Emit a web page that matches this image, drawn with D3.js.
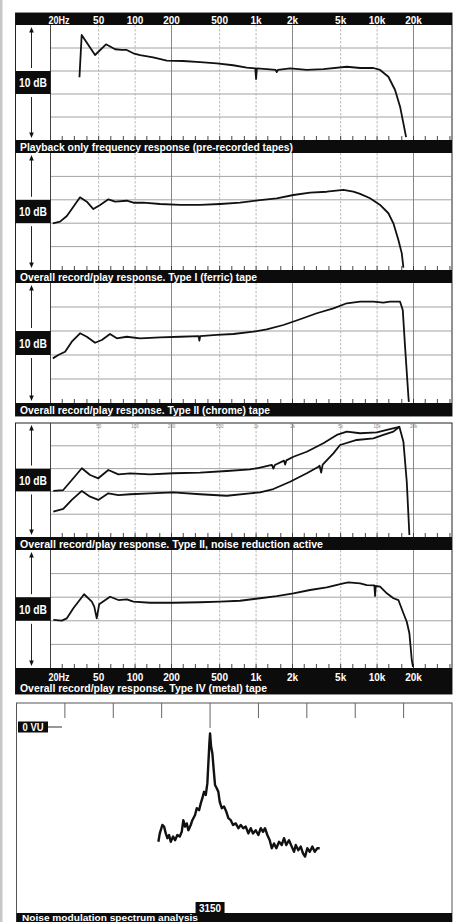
<!DOCTYPE html>
<html>
<head>
<meta charset="utf-8">
<script src="https://cdn.jsdelivr.net/npm/d3@7"></script>
<style>
  body { margin: 0; background: #fff; }
  svg { display: block; }
  .lbl { font-family: "Liberation Sans", Arial, sans-serif; font-weight: bold; fill: #fff; }
</style>
</head>
<body>
<div id="chart"></div>
<script>
// ---- axis data ----
const freqTicks = [20, 50, 100, 200, 500, 1000, 2000, 5000, 10000, 20000];
const freqTickLabels = ["20Hz", "50", "100", "200", "500", "1k", "2k", "5k", "10k", "20k"];
const solidFreqs = [200, 2000, 20000];
const thirdOctave = [25, 31.5, 40, 50, 63, 80, 100, 125, 160, 200, 250, 315, 400, 500, 630, 800,
  1000, 1250, 1600, 2000, 2500, 3150, 4000, 5000, 6300, 8000, 10000, 12500, 16000, 20000, 25000, 31500, 40000];
const dbGrid = [2, 0, -2, -4];

const captions = [
  "Playback only frequency response (pre-recorded tapes)",
  "Overall record/play response. Type I (ferric) tape",
  "Overall record/play response. Type II (chrome) tape",
  "Overall record/play response. Type II, noise reduction active",
  "Overall record/play response. Type IV (metal) tape",
  "Noise modulation spectrum analysis"
];

// ---- response curves: [frequency Hz, level dB] ----
const playback = [[34.7,-0.55],[36.2,3.13],[46.7,1.39],[57.5,2.32],[68.4,1.89],[77.6,1.83],[85.3,1.83],
  [96.8,1.54],[110,1.39],[141,1.19],[183,0.9],[249,0.87],[345,0.78],[473,0.67],[646,0.5],[838,0.29],
  [985,0.23],[1000,-0.7],[1015,0.23],[1225,0.17],[1450,0.1],[1482,-0.1],[1515,0.1],[1910,0.23],
  [2624,0.09],[3597,0.17],[5620,0.37],[7240,0.26],[9320,0.26],[10590,0.09],[12400,-0.5],[14080,-1.65],
  [15490,-3.1],[16500,-4.55],[17370,-5.75]];

const typeI = [[20.9,-2.01],[24,-1.87],[27.3,-1.38],[30.9,-0.59],[35.1,0.21],[39.9,-0.16],[45.2,-0.79],
  [51.4,-0.44],[60.2,0.04],[68.4,-0.16],[85.4,-0.08],[96.8,-0.25],[117,-0.25],[161,-0.36],[236,-0.44],
  [345,-0.44],[504,-0.36],[738,-0.25],[1079,-0.02],[1483,0.13],[2034,0.41],[2794,0.61],[3839,0.69],
  [5265,0.84],[6368,0.69],[7240,0.5],[8750,0.13],[10590,-0.44],[12400,-1.15],[13640,-2.01],[15000,-3.44],
  [16000,-4.58],[16500,-5.8]];

const typeII = [[20.9,-2.28],[23.2,-2.0],[26.4,-1.73],[30,-0.89],[35.1,-0.19],[39.9,-0.48],[46.7,-0.98],
  [53.1,-0.75],[62.1,-0.25],[70.6,-0.61],[85.4,-0.48],[110,-0.61],[161,-0.53],[236,-0.48],[335,-0.42],
  [340,-0.81],[345,-0.42],[473,-0.33],[649,-0.25],[950,-0.06],[1225,0.14],[1682,0.5],[2311,0.98],
  [3175,1.48],[4353,1.89],[5620,2.31],[7240,2.44],[9320,2.44],[11270,2.36],[12800,2.44],[15490,2.44],
  [16300,1.75],[17030,-1.31],[18150,-5.48],[18300,-5.9]];

const typeIINrUpper = [[21.1,-1.96],[25.5,-1.88],[30,-1.0],[36.3,0.03],[42.5,-0.56],[49.7,-0.85],
  [60.1,-0.12],[72.8,-0.5],[91,-0.41],[133,-0.5],[207,-0.41],[345,-0.36],[573,-0.21],[891,-0.06],
  [1014,0.03],[1350,0.32],[1390,0.0],[1430,0.32],[1700,0.7],[1738,0.35],[1780,0.72],[2034,1.04],
  [2624,1.48],[3597,2.22],[4645,2.95],[5620,3.24],[7240,3.1],[9950,3.18],[12030,3.39],[15280,3.67],
  [16500,2.36],[17590,-1.15],[18490,-5.82]];

const typeIINrLower = [[21.1,-3.78],[25.5,-3.54],[30,-2.75],[36.3,-1.96],[42.5,-2.46],[49.7,-2.75],
  [60.1,-2.17],[72.8,-2.32],[91,-2.25],[133,-2.17],[207,-2.08],[345,-2.25],[573,-2.38],[891,-2.17],
  [1079,-2.08],[1390,-1.79],[1910,-1.15],[2624,-0.41],[3251,0.14],[3350,0.25],[3450,-0.35],[3550,0.35],
  [4353,1.34],[4943,2.07],[6790,2.51],[9320,2.66],[11270,2.95],[13640,3.24],[15280,3.67]];

const typeIV = [[21.1,-1.93],[24.8,-1.99],[27.3,-1.79],[30.9,-0.94],[37.9,0.25],[43.9,-0.38],[46,-0.8],
  [48.2,-1.8],[50.5,-0.6],[62.1,0.04],[72.8,-0.24],[85.4,-0.18],[96.8,-0.38],[133,-0.47],[207,-0.47],
  [345,-0.43],[504,-0.38],[738,-0.3],[1079,-0.09],[1482,0.1],[2034,0.33],[2794,0.61],[3839,0.84],
  [5265,1.18],[5790,1.26],[7240,1.18],[8225,1.03],[9500,1.0],[9620,0.1],[9750,0.95],[10590,0.89],
  [12030,0.33],[13640,-0.09],[15000,-0.24],[16500,-1.36],[17590,-2.08],[18490,-3.06],[19350,-5.32],
  [19800,-5.9]];

// ---- noise modulation: [offset from 3150 Hz in scale divisions, level dB re 0 VU] ----
const noiseTicks = [-3, -2, -1, 0, 1, 2, 3, 4];
const noiseMod = [[-1.068,-28.7],[-1.039,-26.6],[-0.986,-24.5],[-0.95,-24.9],[-0.915,-26.6],[-0.882,-27.8],
  [-0.847,-27.0],[-0.812,-28.7],[-0.764,-27.4],[-0.723,-28.3],[-0.676,-27.0],[-0.626,-27.4],[-0.585,-26.2],
  [-0.552,-23.3],[-0.517,-24.9],[-0.481,-24.1],[-0.448,-25.8],[-0.399,-24.5],[-0.366,-23.3],[-0.31,-22.0],
  [-0.275,-20.3],[-0.227,-20.8],[-0.192,-19.1],[-0.159,-17.8],[-0.124,-16.2],[-0.089,-17.0],[-0.056,-14.1],
  [-0.035,-9.1],[-0.014,-4.1],[0,-1.6],[0.021,-4.9],[0.048,-6.6],[0.076,-10.8],[0.103,-14.5],[0.138,-15.3],
  [0.171,-16.2],[0.2,-18.7],[0.242,-20.3],[0.289,-19.9],[0.337,-21.2],[0.378,-22.8],[0.428,-23.3],
  [0.475,-24.5],[0.531,-24.1],[0.585,-25.3],[0.634,-24.5],[0.688,-25.3],[0.738,-24.9],[0.791,-26.6],
  [0.841,-25.3],[0.888,-26.6],[0.944,-25.8],[0.998,-27.0],[1.048,-25.3],[1.095,-26.2],[1.136,-25.3],
  [1.184,-27.0],[1.233,-28.3],[1.275,-30.3],[1.322,-29.1],[1.37,-30.3],[1.426,-28.7],[1.481,-29.5],
  [1.529,-27.8],[1.576,-29.5],[1.632,-28.3],[1.688,-29.9],[1.736,-31.2],[1.771,-29.5],[1.824,-30.8],
  [1.874,-29.9],[1.921,-31.6],[1.963,-32.4],[2.01,-30.3],[2.06,-31.2],[2.114,-29.9],[2.163,-31.2],
  [2.217,-30.3],[2.266,-30.3]];

// ---- layout ----
const W = 459, H = 922;
const frameL = 15.5, frameR = 452, plotL = 50.5, arrowX = 31.5;

const svg = d3.select("#chart").append("svg")
  .attr("width", W)
  .attr("height", H);

// scan edge on the left
svg.append("rect").attr("x", 0).attr("y", 0).attr("width", 2.5).attr("height", H).attr("fill", "#c8c8c8");

const x = d3.scaleLog().domain([20, 41600]).range([plotL, frameR]);

const panels = [
  { top: 25, bottom: 140, capBottom: 153, curves: [playback] },
  { top: 153, bottom: 270, capBottom: 283, curves: [typeI] },
  { top: 283, bottom: 403, capBottom: 416, curves: [typeII] },
  { top: 423, bottom: 537, capBottom: 550, curves: [typeIINrUpper, typeIINrLower], mini: true },
  { top: 550, bottom: 668, capBottom: 694, curves: [typeIV], bottomLabels: true }
];

// box outlines
[[13, 416], [423, 694]].forEach(([t, b]) => {
  svg.append("rect")
    .attr("x", frameL).attr("y", t)
    .attr("width", frameR - frameL).attr("height", b - t)
    .attr("fill", "none").attr("stroke", "#222").attr("stroke-width", 1);
});

// header bar with frequency labels
svg.append("rect").attr("x", frameL).attr("y", 13).attr("width", frameR - frameL).attr("height", 12).attr("fill", "#0c0c0c");

function freqLabels(g, baseline) {
  g.selectAll(null)
    .data(freqTicks)
    .enter()
    .append("text")
    .attr("class", "lbl")
    .attr("x", (d, i) => i === 0 ? x(d) - 2 : x(d))
    .attr("y", baseline)
    .attr("text-anchor", (d, i) => i === 0 ? "start" : "middle")
    .attr("textLength", (d, i) => i === 0 ? 21 : null)
    .attr("lengthAdjust", "spacingAndGlyphs")
    .style("font-size", "10px")
    .text((d, i) => freqTickLabels[i]);
}
freqLabels(svg.append("g"), 23.5);

const line = d3.line();

panels.forEach((p, pi) => {
  const y = d3.scaleLinear().domain([-6, 4]).range([p.bottom, p.top]);
  const g = svg.append("g");

  // horizontal grid
  g.selectAll(null)
    .data(dbGrid)
    .enter()
    .append("line")
    .attr("x1", plotL).attr("x2", frameR)
    .attr("y1", d => y(d)).attr("y2", d => y(d))
    .attr("stroke", "#8c8c8c").attr("stroke-width", 0.8);

  // vertical grid
  g.selectAll(null)
    .data(freqTicks.slice(1))
    .enter()
    .append("line")
    .attr("x1", d => x(d)).attr("x2", d => x(d))
    .attr("y1", p.top).attr("y2", p.bottom)
    .attr("stroke", d => solidFreqs.includes(d) ? "#7a7a7a" : "#a8a8a8")
    .attr("stroke-width", d => solidFreqs.includes(d) ? 0.9 : 0.8)
    .attr("stroke-dasharray", d => solidFreqs.includes(d) ? null : "2.5,1.5");

  // 1/3 octave ticks along the bottom
  g.selectAll(null)
    .data(thirdOctave)
    .enter()
    .append("line")
    .attr("x1", d => x(d)).attr("x2", d => x(d))
    .attr("y1", p.bottom).attr("y2", p.bottom - 4)
    .attr("stroke", "#333").attr("stroke-width", 0.9);

  // faint labels at the top of the noise reduction panel
  if (p.mini) {
    g.selectAll(null)
      .data(freqTicks.slice(1))
      .enter()
      .append("text")
      .attr("x", d => x(d))
      .attr("y", p.top + 5)
      .attr("text-anchor", "middle")
      .style("font-family", "Liberation Sans, sans-serif")
      .style("font-size", "4.5px")
      .attr("fill", "#888")
      .text((d, i) => freqTickLabels[i + 1]);
  }

  // left edge of plot
  g.append("line")
    .attr("x1", plotL).attr("x2", plotL)
    .attr("y1", p.top).attr("y2", p.bottom)
    .attr("stroke", "#444").attr("stroke-width", 1);

  // 10 dB scale marker
  g.append("rect")
    .attr("x", frameL).attr("y", y(0))
    .attr("width", plotL - frameL).attr("height", y(-2) - y(0))
    .attr("fill", "#0c0c0c");
  g.append("text")
    .attr("class", "lbl")
    .attr("x", (frameL + plotL) / 2)
    .attr("y", (y(0) + y(-2)) / 2 + 4.5)
    .attr("text-anchor", "middle")
    .attr("textLength", 28)
    .attr("lengthAdjust", "spacingAndGlyphs")
    .style("font-size", "13px")
    .text("10 dB");

  g.append("line")
    .attr("x1", arrowX).attr("x2", arrowX)
    .attr("y1", p.top + 6).attr("y2", y(0) - 3)
    .attr("stroke", "#222").attr("stroke-width", 1);
  g.append("line")
    .attr("x1", arrowX).attr("x2", arrowX)
    .attr("y1", y(-2) + 3).attr("y2", p.bottom - 6)
    .attr("stroke", "#222").attr("stroke-width", 1);
  g.append("path")
    .attr("d", `M${arrowX},${p.top + 2}L${arrowX - 2.3},${p.top + 7.5}L${arrowX + 2.3},${p.top + 7.5}Z`)
    .attr("fill", "#111");
  g.append("path")
    .attr("d", `M${arrowX},${p.bottom - 2}L${arrowX - 2.3},${p.bottom - 7.5}L${arrowX + 2.3},${p.bottom - 7.5}Z`)
    .attr("fill", "#111");

  // response curves
  line.x(d => x(d[0])).y(d => y(d[1]));
  g.selectAll(null)
    .data(p.curves)
    .enter()
    .append("path")
    .attr("d", line)
    .attr("fill", "none")
    .attr("stroke", "#111")
    .attr("stroke-width", 1.8)
    .attr("stroke-linejoin", "round");

  // caption bar
  g.append("rect")
    .attr("x", frameL).attr("y", p.bottom)
    .attr("width", frameR - frameL).attr("height", p.capBottom - p.bottom)
    .attr("fill", "#0c0c0c");
  if (p.bottomLabels) freqLabels(g, p.bottom + 12.5);
  g.append("text")
    .attr("class", "lbl")
    .attr("x", 20)
    .attr("y", p.capBottom - 2.5)
    .attr("textLength", [273, 237, 250, 303, 247][pi])
    .attr("lengthAdjust", "spacingAndGlyphs")
    .style("font-size", "10.5px")
    .text(captions[pi]);
});

// ---- noise modulation panel ----
const nTop = 703;
const xN = d3.scaleLinear().domain([-4, 5]).range([16.5, 452]);
const yN = d3.scaleLinear().domain([0, -40]).range([727, 887]);
const ng = svg.append("g");

ng.append("rect")
  .attr("x", 16.5).attr("y", nTop)
  .attr("width", 452 - 16.5).attr("height", 240)
  .attr("fill", "none").attr("stroke", "#555").attr("stroke-width", 1);

ng.selectAll(null)
  .data(noiseTicks)
  .enter()
  .append("line")
  .attr("x1", d => xN(d)).attr("x2", d => xN(d))
  .attr("y1", nTop).attr("y2", d => d === 0 ? 728 : 718)
  .attr("stroke", "#666").attr("stroke-width", 1);

// 0 VU reference
ng.append("rect").attr("x", 18).attr("y", yN(0) - 5.5).attr("width", 30).attr("height", 11).attr("fill", "#0c0c0c");
ng.append("text")
  .attr("class", "lbl")
  .attr("x", 33).attr("y", yN(0) + 3.5)
  .attr("text-anchor", "middle")
  .attr("textLength", 21)
  .attr("lengthAdjust", "spacingAndGlyphs")
  .style("font-size", "10px")
  .text("0 VU");
ng.append("line")
  .attr("x1", 48).attr("x2", 62)
  .attr("y1", yN(0)).attr("y2", yN(0))
  .attr("stroke", "#333").attr("stroke-width", 1);

ng.append("path")
  .attr("d", d3.line().x(d => xN(d[0])).y(d => yN(d[1]))(noiseMod))
  .attr("fill", "none")
  .attr("stroke", "#111")
  .attr("stroke-width", 2.4)
  .attr("stroke-linejoin", "round");

// centre frequency label
ng.append("rect").attr("x", xN(0) - 14.5).attr("y", 902).attr("width", 29).attr("height", 11).attr("fill", "#0c0c0c");
ng.append("text")
  .attr("class", "lbl")
  .attr("x", xN(0)).attr("y", 911.5)
  .attr("text-anchor", "middle")
  .attr("textLength", 22)
  .attr("lengthAdjust", "spacingAndGlyphs")
  .style("font-size", "10px")
  .text("3150");

ng.append("rect").attr("x", 16.5).attr("y", 913).attr("width", 452 - 16.5).attr("height", 12).attr("fill", "#0c0c0c");
ng.append("text")
  .attr("class", "lbl")
  .attr("x", 22).attr("y", 921)
  .attr("textLength", 176)
  .attr("lengthAdjust", "spacingAndGlyphs")
  .style("font-size", "9px")
  .text(captions[5]);
</script>
</body>
</html>
